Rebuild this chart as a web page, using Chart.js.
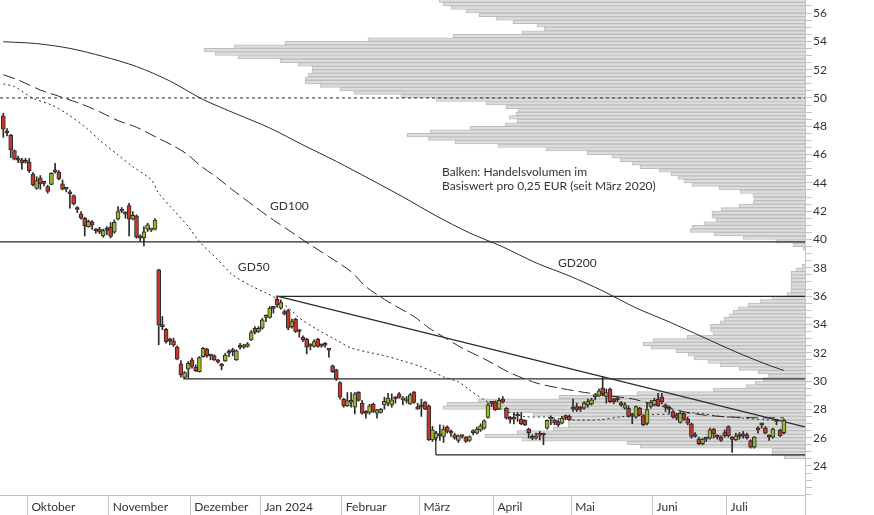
<!DOCTYPE html>
<html>
<head>
<meta charset="utf-8">
<script src="https://cdn.jsdelivr.net/npm/chart.js@4.4.1/dist/chart.umd.min.js"></script>
<style>
  html, body { margin: 0; padding: 0; background: #fff; }
  #wrap { width: 874px; height: 515px; }
</style>
</head>
<body>
<div id="wrap"><canvas id="kurs" width="874" height="515"></canvas></div>
<script>
// Tageskerzen, Index 0 = erster Handelstag im Bild (Ende September 2023)
const open = [
  48.73,47.56,47.36,46.28,45.62,45.62,45.48,45.46,44.63,43.60,
  44.35,43.98,43.74,43.90,44.80,44.77,43.93,43.57,43.36,43.10,
  42.15,41.81,41.50,40.91,41.24,40.64,40.73,40.25,40.66,40.87,
  40.51,41.43,42.02,41.81,42.40,41.43,41.67,40.12,40.11,40.73,
  40.66,40.73,37.85,33.87,33.66,32.87,32.84,32.39,31.21,30.25,
  30.84,31.50,30.98,30.67,31.73,32.25,31.79,31.80,31.37,31.07,
  31.43,31.98,32.10,31.50,32.40,32.39,32.44,32.91,33.73,33.50,
  33.73,34.50,34.50,35.15,35.78,35.15,34.91,34.98,33.85,34.37,
  33.52,33.10,32.96,32.50,32.44,32.96,32.49,32.56,32.21,31.07,
  30.79,29.90,28.72,28.25,28.50,28.15,29.21,28.44,27.74,27.78,
  28.37,27.73,27.78,28.32,28.44,28.32,28.76,29.10,28.67,28.60,
  28.39,29.24,28.20,28.20,28.49,28.25,25.85,25.96,26.15,26.08,
  26.74,26.32,26.20,25.80,26.10,26.04,25.80,26.37,26.32,26.55,
  26.67,27.43,28.44,28.53,28.01,28.72,28.08,27.31,27.33,27.55,
  27.31,27.22,26.60,25.98,25.97,26.20,26.20,26.67,27.30,27.26,
  27.14,27.03,27.43,27.50,28.04,28.20,28.04,28.08,28.32,28.39,
  28.90,28.95,29.50,28.91,29.43,28.58,28.69,28.48,28.08,28.08,
  27.55,27.45,28.08,27.54,27.00,28.20,28.32,28.72,28.86,28.20,
  28.15,27.85,27.61,27.07,27.68,27.31,26.98,26.10,25.90,25.57,
  25.92,25.96,26.60,26.05,26.04,26.36,26.79,25.90,25.85,26.09,
  26.14,26.20,25.80,25.33,26.57,26.92,26.67,26.05,26.04,27.15,
  26.55,26.36
];
const high = [
  48.92,47.83,47.43,46.33,45.90,45.74,45.74,45.72,44.73,44.44,
  44.52,44.09,43.83,44.73,45.39,44.87,44.21,43.69,43.50,43.15,
  42.33,41.97,41.57,41.38,41.34,40.77,40.87,40.73,40.91,41.20,
  41.38,42.33,42.26,41.97,42.56,41.97,41.74,40.33,40.91,41.15,
  40.80,41.48,37.90,34.56,33.73,33.03,33.03,32.49,31.45,30.67,
  31.38,31.62,31.14,31.73,32.39,32.32,31.90,31.85,31.54,31.26,
  31.97,32.20,32.32,32.20,32.67,32.60,32.72,33.57,33.85,33.85,
  34.44,34.68,35.26,35.26,36.02,35.73,35.03,35.07,34.37,34.44,
  33.62,33.19,33.03,32.63,32.91,33.03,32.63,32.72,32.32,31.14,
  30.84,29.97,28.79,29.19,29.19,29.19,29.26,28.63,27.92,28.37,
  28.44,28.01,28.07,28.86,29.14,29.10,28.91,29.19,28.91,28.91,
  29.14,29.26,28.44,28.72,28.55,28.32,26.79,26.44,26.91,26.84,
  26.84,26.55,26.32,26.20,26.20,26.08,26.13,26.55,26.74,26.98,
  27.26,28.44,28.55,28.60,28.79,28.91,28.13,27.50,27.78,27.78,
  27.78,27.26,26.67,26.20,26.32,26.44,26.32,27.26,27.54,27.31,
  27.26,27.50,27.61,27.61,28.72,28.44,28.20,28.55,28.72,28.79,
  29.10,29.45,30.32,29.43,29.50,28.79,28.91,28.55,28.48,28.25,
  27.73,28.25,28.15,27.61,28.50,28.63,28.79,29.14,29.14,28.39,
  28.25,27.92,27.73,27.85,27.78,27.45,27.03,26.36,26.04,25.96,
  26.04,26.67,26.67,26.20,26.13,26.55,26.84,26.08,26.32,26.36,
  26.44,26.32,25.85,26.08,26.79,27.03,26.79,26.20,26.67,27.31,
  26.60,27.31
];
const low = [
  47.22,47.32,45.79,45.62,45.43,44.96,45.39,44.73,43.79,43.55,
  43.55,43.79,43.27,43.86,44.68,44.21,43.50,43.36,42.21,42.44,
  41.90,41.43,40.25,40.87,40.72,40.44,40.42,40.16,40.35,40.11,
  40.44,41.38,41.90,41.50,40.25,41.38,40.09,39.88,39.55,40.56,
  40.56,40.68,32.56,33.62,32.67,32.56,32.44,31.50,30.27,30.18,
  30.20,30.91,30.67,30.63,31.68,31.68,31.50,31.45,31.26,30.79,
  31.38,31.73,31.78,31.45,32.25,32.30,32.39,32.86,33.33,33.43,
  33.66,34.20,34.44,34.80,35.22,35.07,34.67,33.62,33.73,33.43,
  33.10,32.79,31.92,32.20,32.39,32.39,32.39,32.39,31.68,30.60,
  30.04,28.72,28.15,28.20,28.15,27.68,28.58,27.66,27.38,27.66,
  27.78,27.38,27.73,28.01,28.25,28.15,28.44,28.79,28.32,28.44,
  28.34,28.44,28.00,27.50,27.97,25.80,25.73,25.80,25.80,25.66,
  26.32,26.08,25.89,25.66,25.96,25.66,25.73,26.20,26.27,26.44,
  26.60,27.38,28.20,27.92,27.97,28.44,27.31,27.03,26.98,27.14,
  26.91,26.84,25.97,25.85,25.89,25.85,25.50,26.60,26.91,26.91,
  26.79,26.98,27.26,27.22,27.85,27.85,27.85,28.01,28.15,28.30,
  28.67,28.91,28.95,28.44,28.48,28.39,28.55,28.20,28.01,27.45,
  26.98,27.38,27.54,26.84,26.90,28.08,28.25,28.20,28.39,27.85,
  27.73,27.38,27.26,27.03,27.21,26.91,25.96,26.04,25.49,25.49,
  25.73,25.89,25.96,25.89,25.73,26.04,26.04,24.95,25.80,25.89,
  25.96,25.89,25.26,25.26,26.32,26.67,26.27,25.80,25.96,26.91,
  26.08,26.27
];
const close = [
  47.79,47.54,46.33,45.67,45.60,45.39,45.46,44.87,43.86,44.16,
  43.93,43.96,43.39,44.68,44.78,44.28,43.55,43.55,43.22,42.51,
  42.12,41.50,40.98,41.29,41.01,40.62,40.51,40.63,40.64,40.21,
  41.22,41.97,42.00,41.79,41.43,41.71,40.16,40.10,40.54,41.03,
  40.68,41.38,33.97,33.84,32.79,32.85,32.56,31.54,30.44,30.60,
  31.26,31.03,30.74,31.66,32.32,31.78,31.77,31.50,31.35,31.05,
  31.83,31.97,32.08,32.13,32.38,32.56,32.63,33.43,33.43,33.73,
  34.32,34.52,35.15,35.14,35.38,35.54,34.75,33.73,34.20,33.50,
  33.50,32.91,32.39,32.48,32.79,32.44,32.47,32.54,32.19,30.67,
  30.13,28.86,28.25,28.60,28.52,29.10,28.63,27.73,27.72,28.25,
  27.85,27.97,28.01,28.56,28.79,28.67,28.74,28.84,28.67,28.60,
  29.03,28.49,28.01,28.18,28.01,25.85,26.55,26.32,26.13,26.60,
  26.44,26.31,25.96,26.13,26.08,25.73,26.08,26.36,26.60,26.84,
  27.19,28.32,28.42,27.97,28.63,28.53,27.38,27.29,27.31,27.53,
  26.98,26.91,26.36,25.96,26.13,26.18,26.18,27.22,27.31,27.03,
  26.91,27.38,27.42,27.26,28.02,27.97,28.02,28.44,28.55,28.67,
  28.91,29.31,29.10,29.19,28.55,28.55,28.67,28.32,28.32,27.50,
  27.52,28.20,27.61,26.91,27.98,28.48,28.63,28.25,28.55,28.18,
  28.01,27.45,27.38,27.73,27.31,27.03,26.08,26.08,25.57,25.90,
  25.90,26.55,26.27,26.03,25.80,26.13,26.13,25.88,26.13,26.08,
  26.13,25.96,25.33,26.04,26.55,26.90,26.32,26.03,26.60,27.14,
  26.13,27.22
];

// gleitende Durchschnitte (Stützstellen: Tagesindex / Kurs)
const gd200Day = [0, 9, 18, 27, 36, 45, 54, 63, 72, 81, 90, 99, 108, 117, 126, 135, 144, 153, 162, 171, 180, 189, 198, 206, 211];
const gd200 = [53.97, 53.84, 53.50, 52.93, 52.22, 51.20, 49.89, 48.87, 47.88, 46.68, 45.52, 44.28, 43.01, 41.67, 40.47, 39.48, 38.35, 37.43, 36.37, 35.17, 34.18, 33.12, 32.06, 31.21, 30.75];
const gd100Day = [0, 4, 10, 14, 21, 26, 31, 36, 41, 46, 50, 53, 58, 62, 68, 73, 77, 83, 88, 94, 98, 104, 111, 115, 119, 124, 131, 137, 144, 150, 157, 164, 170, 178, 187, 196, 205, 211];
const gd100 = [51.64, 51.27, 50.56, 50.21, 49.58, 49.03, 48.40, 47.93, 47.27, 46.61, 45.97, 45.27, 44.33, 43.50, 42.32, 41.38, 40.68, 39.62, 38.79, 37.73, 36.67, 35.61, 34.56, 33.76, 33.12, 32.34, 31.43, 30.58, 29.87, 29.52, 29.20, 28.95, 28.74, 28.21, 27.68, 27.47, 27.40, 27.40];
const gd50Day = [0, 3, 8, 13, 17, 22, 26, 31, 35, 40, 42, 46, 50, 53, 58, 62, 67, 71, 74, 78, 80, 85, 90, 94, 102, 107, 113, 116, 119, 123, 126, 130, 136, 141, 147, 153, 161, 167, 174, 182, 187, 194, 199, 206, 211];
const gd50 = [50.99, 50.80, 49.98, 49.51, 48.92, 47.97, 47.03, 45.97, 45.15, 44.21, 43.27, 42.09, 40.91, 39.85, 38.56, 37.50, 36.72, 36.23, 35.81, 34.96, 34.46, 33.62, 32.91, 32.34, 31.85, 31.50, 31.00, 30.67, 30.30, 29.94, 29.38, 28.67, 27.85, 27.49, 27.45, 27.26, 27.26, 27.47, 27.61, 27.68, 27.75, 27.49, 27.40, 27.26, 27.20];

// Handelsvolumen je 0,25 EUR (Untergrenze der Preisstufe / relatives Volumen)
const volPrice = [
  24.50,24.75,25.00,25.25,25.50,25.75,26.00,26.25,26.50,26.75,
  27.00,27.25,27.50,27.75,28.00,28.25,28.50,28.75,29.00,29.25,
  29.50,29.75,30.00,30.25,30.50,30.75,31.00,31.25,31.50,31.75,
  32.00,32.25,32.50,32.75,33.00,33.25,33.50,33.75,34.00,34.25,
  34.50,34.75,35.00,35.25,35.50,35.75,36.00,36.25,36.50,36.75,
  37.00,37.25,37.50,37.75,38.00,38.25,38.50,38.75,39.00,39.25,
  39.50,39.75,40.00,40.25,40.50,40.75,41.00,41.25,41.50,41.75,
  42.00,42.25,42.50,42.75,43.00,43.25,43.50,43.75,44.00,44.25,
  44.50,44.75,45.00,45.25,45.50,45.75,46.00,46.25,46.50,46.75,
  47.00,47.25,47.50,47.75,48.00,48.25,48.50,48.75,49.00,49.25,
  49.50,49.75,50.00,50.25,50.50,50.75,51.00,51.25,51.50,51.75,
  52.00,52.25,52.50,52.75,53.00,53.25,53.50,53.75,54.00,54.25,
  54.50,54.75,55.00,55.25,55.50,55.75,56.00,56.25,56.50,56.75
];
const volAmount = [
  21,33,33,165,178,283,320,288,252,237,
  237,237,272,296,362,358,327,246,168,92,
  59,50,42,37,47,66,85,97,111,117,
  129,154,162,152,118,92,95,95,85,81,
  76,72,67,57,45,33,18,14,14,14,
  14,14,14,9,3,0,0,0,0,2,
  12,29,62,91,115,113,101,89,93,93,
  84,66,52,51,52,65,86,113,121,127,
  134,146,165,173,185,193,218,259,307,350,
  377,398,375,335,300,288,296,289,287,299,
  319,369,404,451,465,485,500,500,497,493,
  493,507,525,567,590,601,571,520,437,352,
  283,261,268,292,309,326,339,354,362,366
];

// Unterstützungen / Widerstände: Kursniveau und Starttag
const levelPrice = [50.0, 39.83, 35.98, 30.16, 24.79];
const levelStart = [-0.9, -0.9, 74.3, 48.6, 116.9];
const trendDay = [74.3, 216.7];
const trendPrice = [35.98, 26.76];
const bracketDay = [116.9, 116.9];
const bracketPrice = [26.45, 24.79];

// Achsen
const monthNames = ['Oktober', 'November', 'Dezember', 'Jan 2024', 'Februar', 'März', 'April', 'Mai', 'Juni', 'Juli'];
const monthStart = [7, 29, 51, 70, 92, 113, 133, 154, 176, 196];
const yLabels = [24, 26, 28, 30, 32, 34, 36, 38, 40, 42, 44, 46, 48, 50, 52, 54, 56];
const xMin = -0.9, xMax = 216.7;
const yMin = 21.95, yMax = 56.92;

const notes = [
  { text: 'GD100', x: 72.1, y: 42.37 },
  { text: 'GD50', x: 63.4, y: 38.07 },
  { text: 'GD200', x: 149.9, y: 38.35 },
  { text: 'Balken: Handelsvolumen im', x: 118.6, y: 44.77 },
  { text: 'Basiswert pro 0,25 EUR (seit März 2020)', x: 118.6, y: 43.79 }
];

const FONT = { family: 'Lato', size: 12 };
const red = '#c5372a', green = '#9cb82c', ink = '#2a2a2a', axisGrey = '#c4c4c4';

const notesPlugin = {
  id: 'notes',
  afterDatasetsDraw(chart) {
    const { ctx, scales } = chart;
    ctx.save();
    ctx.font = '12px Lato';
    ctx.fillStyle = '#333';
    ctx.textBaseline = 'middle';
    ctx.textAlign = 'left';
    notes.forEach(n => {
      ctx.fillText(n.text, scales.x.getPixelForValue(n.x), scales.y.getPixelForValue(n.y));
    });
    ctx.restore();
  }
};

function lineSet(days, vals, dash, width, tension) {
  return {
    type: 'line',
    data: days.map((d, k) => ({ x: d, y: vals[k] })),
    borderColor: ink,
    borderWidth: width,
    borderDash: dash,
    pointRadius: 0,
    tension: tension,
    fill: false,
    order: 3
  };
}

// keine Randabstände für Achsenbeschriftungen
function noPadding(s) {
  s.paddingTop = 0;
  s.paddingBottom = 0;
  s.paddingLeft = 0;
  s.paddingRight = 0;
}

const datasets = [];

// Volumenprofil (waagerechte Balken von rechts)
datasets.push({
  type: 'bar',
  indexAxis: 'y',
  xAxisID: 'vol',
  yAxisID: 'y',
  data: volPrice.map((p, k) => ({ x: volAmount[k], y: p + 0.125 })).filter(d => d.x > 0),
  backgroundColor: '#dddddd',
  borderColor: '#bdbdbd',
  borderWidth: 1,
  barThickness: 3.54,
  grouped: false,
  order: 9
});

datasets.push(lineSet(gd200Day, gd200, [], 1, 0.3));
datasets.push(lineSet(gd100Day, gd100, [12, 5], 1, 0.3));
datasets.push(lineSet(gd50Day, gd50, [2, 3], 1, 0.3));

levelPrice.forEach((p, k) => {
  datasets.push(lineSet([levelStart[k], xMax], [p, p], k === 0 ? [3, 3] : [], k === 0 ? 1 : 1.3, 0));
});
datasets.push(lineSet(trendDay, trendPrice, [], 1.3, 0));
datasets.push(lineSet(bracketDay, bracketPrice, [], 1.3, 0));

// Dochte
datasets.push({
  type: 'bar',
  data: low.map((l, i) => ({ x: i, y: [l, high[i]] })),
  backgroundColor: ink,
  borderWidth: 0,
  barThickness: 1,
  grouped: false,
  order: 2
});

// Kerzenkörper
datasets.push({
  type: 'bar',
  data: open.map((o, i) => ({ x: i, y: [o, close[i]] })),
  backgroundColor: open.map((o, i) => close[i] >= o ? green : red),
  borderColor: ink,
  borderWidth: 1,
  borderSkipped: false,
  barThickness: 4,
  minBarLength: 2,
  grouped: false,
  order: 1
});

new Chart(document.getElementById('kurs'), {
  type: 'bar',
  data: { datasets: datasets },
  options: {
    responsive: false,
    animation: false,
    devicePixelRatio: 1,
    events: [],
    layout: { padding: 0 },
    plugins: { legend: { display: false }, tooltip: { enabled: false } },
    scales: {
      x: {
        type: 'linear',
        position: 'bottom',
        min: xMin,
        max: xMax,
        offset: false,
        afterBuildTicks: s => { s.ticks = monthStart.map(d => ({ value: d - 0.5 })).concat([{ value: xMax }]); },
        afterFit: s => { s.height = 20; noPadding(s); },
        grid: { drawOnChartArea: false, drawTicks: true, tickLength: 20, color: axisGrey, offset: false },
        border: { color: axisGrey },
        ticks: {
          autoSkip: false,
          maxRotation: 0,
          align: 'start',
          labelOffset: 4,
          padding: -15,
          color: '#333',
          font: FONT,
          callback: (v, i) => monthNames[i] || ''
        }
      },
      y: {
        type: 'linear',
        position: 'right',
        min: yMin,
        max: yMax,
        offset: false,
        beginAtZero: false,
        afterFit: s => { s.width = 69; noPadding(s); },
        grid: { drawOnChartArea: false, tickLength: 7, color: axisGrey, offset: false },
        border: { color: axisGrey },
        ticks: {
          stepSize: 0.5,
          includeBounds: false,
          autoSkip: false,
          padding: 1,
          color: '#333',
          font: FONT,
          callback: v => yLabels.includes(v) ? String(v) : ''
        }
      },
      vol: {
        axis: 'x',
        type: 'linear',
        display: false,
        min: 0,
        max: 805,
        reverse: true,
        offset: false
      }
    }
  },
  plugins: [notesPlugin]
});
</script>
</body>
</html>
